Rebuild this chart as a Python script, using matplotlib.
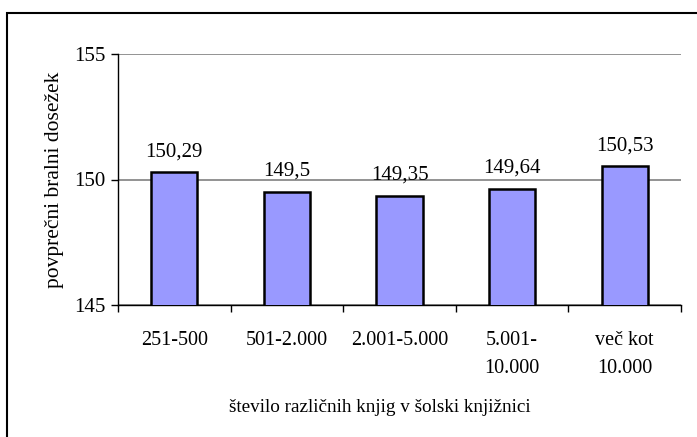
import matplotlib.pyplot as plt
from matplotlib.patches import Rectangle

plt.rcParams['font.family'] = ['Liberation Serif', 'DejaVu Serif']

categories = ["251-500", "501-2.000", "2.001-5.000", "5.001-\n10.000", "več kot\n10.000"]
values = [150.29, 149.5, 149.35, 149.64, 150.53]
value_labels = ["150,29", "149,5", "149,35", "149,64", "150,53"]

fig = plt.figure(figsize=(6.97, 4.37), dpi=100)
ax = fig.add_axes([118/697, 1-305/437, (681-118)/697, (305-54)/437])

x = list(range(len(categories)))
ax.bar(x, values, width=0.41, color='#9999FF', edgecolor='black', linewidth=1.8, zorder=3)

for xi, v, lab in zip(x, values, value_labels):
    ax.annotate(lab, (xi, v), xytext=(0, 8), textcoords='offset points',
                ha='center', va='bottom', fontsize=15)

ax.set_xlim(-0.5, len(categories) - 0.5)
ax.set_ylim(145, 155)
ax.set_yticks([145, 150, 155])
ax.yaxis.grid(True, color='#808080', linewidth=1.2, zorder=0)

ax.set_xticks(x)
ax.set_xticklabels(categories, fontsize=14.5, linespacing=1.6)
ax.set_xticks([i - 0.5 for i in range(len(categories) + 1)], minor=True)
ax.tick_params(axis='x', which='major', length=0, pad=19)
ax.tick_params(axis='x', which='minor', length=5, width=1)
ax.tick_params(axis='y', length=5, width=1, labelsize=15, pad=4)

for s in ['top', 'right']:
    ax.spines[s].set_visible(False)
for s in ['left', 'bottom']:
    ax.spines[s].set_linewidth(1.0)

ax.set_ylabel('povprečni bralni dosežek', fontsize=15.5, labelpad=7)
ax.set_xlabel('število različnih knjig v šolski knjižnici', fontsize=13.8)
ax.xaxis.label.set_va('center')
ax.xaxis.set_label_coords(0.465, -0.41)

fig.patches.append(Rectangle((7/697, -0.2), 2, 1.2 - 13/437, transform=fig.transFigure,
                             fill=False, edgecolor='black', linewidth=1.5))

fig.savefig('out.png', dpi=100)
